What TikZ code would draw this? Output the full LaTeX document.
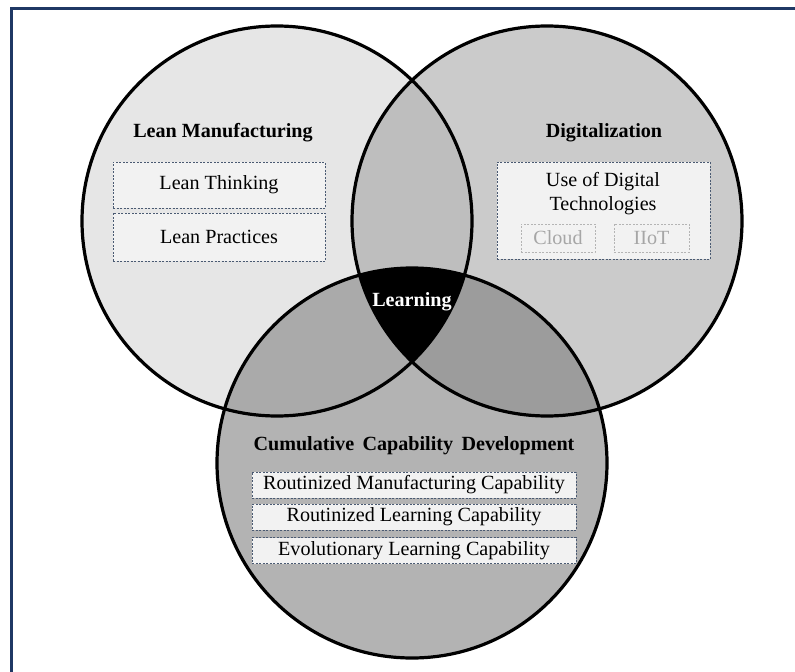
\documentclass[tikz,border=0pt]{standalone}
\usepackage{fontspec}
\setmainfont{Liberation Serif}
\definecolor{framecol}{HTML}{1F3864}
\definecolor{onlyL}{HTML}{E6E6E6}
\definecolor{onlyR}{HTML}{CBCBCB}
\definecolor{onlyB}{HTML}{B3B3B3}
\definecolor{LR}{HTML}{BEBEBE}
\definecolor{LB}{HTML}{AAAAAA}
\definecolor{RB}{HTML}{9C9C9C}
\definecolor{boxfill}{HTML}{F2F2F2}
\definecolor{boxline}{HTML}{4A5A72}
\definecolor{greytext}{HTML}{A6A6A6}
\definecolor{greyline}{HTML}{B4B4B4}
\begin{document}
\begin{tikzpicture}[x=1bp,y=-1bp,
  every node/.style={font=\fontsize{20.2}{24}\selectfont},
  title/.style={font=\fontsize{20.2}{24}\selectfont\bfseries},
  itembox/.style={draw=boxline, fill=boxfill, line width=0.8bp, dash pattern=on 2bp off 1.5bp, inner sep=0pt, anchor=center},
  subbox/.style={draw=greyline, fill=boxfill, line width=0.8bp, dash pattern=on 2bp off 1.5bp, inner sep=0pt, text=greytext, minimum height=28bp},
  ring/.style={draw=black, line width=3.2bp}]
\useasboundingbox (0,0) rectangle (795,672);
% frame (top and left edges visible)
\draw[framecol, line width=2.8bp] (11.3,672) -- (11.3,8.7) -- (795,8.7);
% circle centres
\coordinate (L) at (277,221);
\coordinate (R) at (547,221);
\coordinate (B) at (412,463);
% single regions
\fill[onlyL] (L) circle[radius=195bp];
\fill[onlyR] (R) circle[radius=195bp];
\fill[onlyB] (B) circle[radius=195bp];
% pairwise
\begin{scope}
  \clip (L) circle[radius=195bp];
  \fill[LR] (R) circle[radius=195bp];
  \fill[LB] (B) circle[radius=195bp];
\end{scope}
\begin{scope}
  \clip (R) circle[radius=195bp];
  \fill[RB] (B) circle[radius=195bp];
\end{scope}
% triple
\begin{scope}
  \clip (L) circle[radius=195bp];
  \clip (R) circle[radius=195bp];
  \fill[black] (B) circle[radius=195bp];
\end{scope}
% outlines
\draw[ring] (L) circle[radius=195bp];
\draw[ring] (R) circle[radius=195bp];
\draw[ring] (B) circle[radius=195bp];

% Lean Manufacturing
\node[title] (lmt) at (223,133) {Lean Manufacturing};
\node[itembox, minimum width=212bp, minimum height=46bp] (lt) at (219,185) {Lean Thinking};
\node[itembox, minimum width=212bp, minimum height=48bp] (lp) at (219,237) {Lean Practices};

% Digitalization
\node[title] (dgt) at (604,133) {Digitalization};
\node[itembox, minimum width=213bp, minimum height=97bp] (dbox) at (603.5,210.5) {};
\node[align=center, inner sep=0pt] (udt) at (603,194) {Use of Digital\\Technologies};
\node[subbox, minimum width=74bp] (cloud) at (558,238) {Cloud};
\node[subbox, minimum width=75bp] (iiot) at (651.5,238) {IIoT};

% Learning
\node[title, text=white] (lrn) at (412,302) {Learning};

% Cumulative Capability Development
\node[title] (ccd) at (414,446) {Cumulative\ \,Capability\ \,Development};
\node[itembox, minimum width=324bp, minimum height=26bp] (rmc) at (414,485) {Routinized Manufacturing Capability};
\node[itembox, minimum width=324bp, minimum height=26bp] (rlc) at (414,517) {Routinized Learning Capability};
\node[itembox, minimum width=324bp, minimum height=26bp] (elc) at (414,550.5) {Evolutionary Learning Capability};
\end{tikzpicture}
\end{document}
